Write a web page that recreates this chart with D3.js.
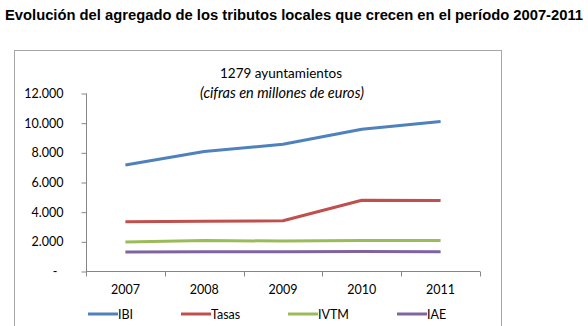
<!DOCTYPE html>
<html>
<head>
<meta charset="utf-8">
<script src="https://cdn.jsdelivr.net/npm/d3@7"></script>
<style>
  body { margin: 0; background: #fff; }
  svg { display: block; }
</style>
</head>
<body>
<div id="plot"></div>
<script>
// datos del grafico (millones de euros)
var years = ['2007', '2008', '2009', '2010', '2011'];
var ibi   = [7150, 8050, 8540, 9560, 10080];
var tasas = [3320, 3350, 3390, 4770, 4760];
var ivtm  = [1960, 2050, 2020, 2060, 2060];
var iae   = [1280, 1300, 1300, 1310, 1300];
var seriesNames = ['IBI', 'Tasas', 'IVTM', 'IAE'];
var seriesColors = ['#4F81BD', '#C0504D', '#9BBB59', '#8064A2'];
var yTicks = [0, 2000, 4000, 6000, 8000, 10000, 12000];

var W = 588, H = 326;
var svg = d3.select('#plot').append('svg')
  .attr('width', W).attr('height', H);

// titulo
svg.append('text')
  .attr('x', 5).attr('y', 20)
  .style('font-family', '"Liberation Sans", Arial, sans-serif')
  .style('font-weight', 'bold')
  .style('font-size', '14px')
  .attr('textLength', 578)
  .attr('lengthAdjust', 'spacingAndGlyphs')
  .attr('fill', '#000')
  .text('Evolución del agregado de los tributos locales que crecen en el período 2007-2011');

// marco del grafico
svg.append('rect')
  .attr('x', 14.5).attr('y', 50.5)
  .attr('width', 487).attr('height', 290)
  .attr('fill', 'none')
  .attr('stroke', '#a6a6a6')
  .attr('stroke-width', 1);

var font = 'Lato, Carlito, Calibri, sans-serif';

svg.append('text')
  .attr('x', 281).attr('y', 78)
  .attr('text-anchor', 'middle')
  .attr('font-family', font).attr('font-size', 13.5)
  .text('1279 ayuntamientos');
svg.append('text')
  .attr('x', 282).attr('y', 98)
  .attr('text-anchor', 'middle')
  .attr('font-family', font).attr('font-size', 14.5)
  .attr('font-style', 'italic')
  .text('(cifras en millones de euros)');

var x0 = 86, x1 = 480, yTop = 93, yBot = 271;
var x = d3.scaleBand().domain(years).range([x0, x1]);
var y = d3.scaleLinear().domain([0, 12000]).range([yBot, yTop]);

var fmt = function (d) {
  return d === 0 ? '-' : d3.format(',')(d).replace(/,/g, '.');
};

// eje y
var gy = svg.append('g')
  .attr('transform', 'translate(' + (x0 + 0.5) + ',0.5)')
  .call(d3.axisLeft(y).tickValues(yTicks).tickSize(5).tickPadding(18).tickFormat(fmt));
gy.select('.domain').attr('stroke', '#868686').attr('d', 'M0,' + yTop + 'V' + yBot);
gy.selectAll('.tick line').attr('stroke', '#868686');
gy.selectAll('.tick text')
  .attr('font-family', font).attr('font-size', 12.5).attr('fill', '#000');
gy.selectAll('.tick').filter(function (d) { return d === 0; }).select('text')
  .attr('dx', -6);

// eje x
var gx = svg.append('g')
  .attr('transform', 'translate(0,' + (yBot + 0.5) + ')')
  .call(d3.axisBottom(x).tickSize(0).tickPadding(0).tickFormat(function (d) { return d; }));
gx.select('.domain').attr('stroke', '#868686').attr('d', 'M' + x0 + ',0H' + x1);
gx.selectAll('.tick text')
  .attr('font-family', font).attr('font-size', 12.5).attr('fill', '#000')
  .attr('dy', 22);
// marcas de separacion entre categorias
var bounds = years.map(function (d) { return x(d); }).concat([x1]);
gx.selectAll('.sep').data(bounds).enter().append('line')
  .attr('x1', function (d) { return Math.round(d) + 0.5; })
  .attr('x2', function (d) { return Math.round(d) + 0.5; })
  .attr('y1', 0).attr('y2', 5)
  .attr('stroke', '#868686');

// series
var allSeries = [ibi, tasas, ivtm, iae];
var line = d3.line()
  .x(function (d, i) { return x(years[i]) + x.bandwidth() / 2; })
  .y(function (d) { return y(d); });

allSeries.forEach(function (vals, k) {
  svg.append('path')
    .datum(vals)
    .attr('d', line)
    .attr('fill', 'none')
    .attr('stroke', seriesColors[k])
    .attr('stroke-width', 3)
    .attr('stroke-linejoin', 'round');
});

// leyenda
var legendX = [88, 181, 288, 397];
var legY = 314;
seriesNames.forEach(function (name, k) {
  svg.append('line')
    .attr('x1', legendX[k]).attr('x2', legendX[k] + 30)
    .attr('y1', legY).attr('y2', legY)
    .attr('stroke', seriesColors[k])
    .attr('stroke-width', 3);
  svg.append('text')
    .attr('x', legendX[k] + 30).attr('y', legY + 4.5)
    .attr('font-family', font).attr('font-size', 12.5)
    .text(name);
});
</script>
</body>
</html>
